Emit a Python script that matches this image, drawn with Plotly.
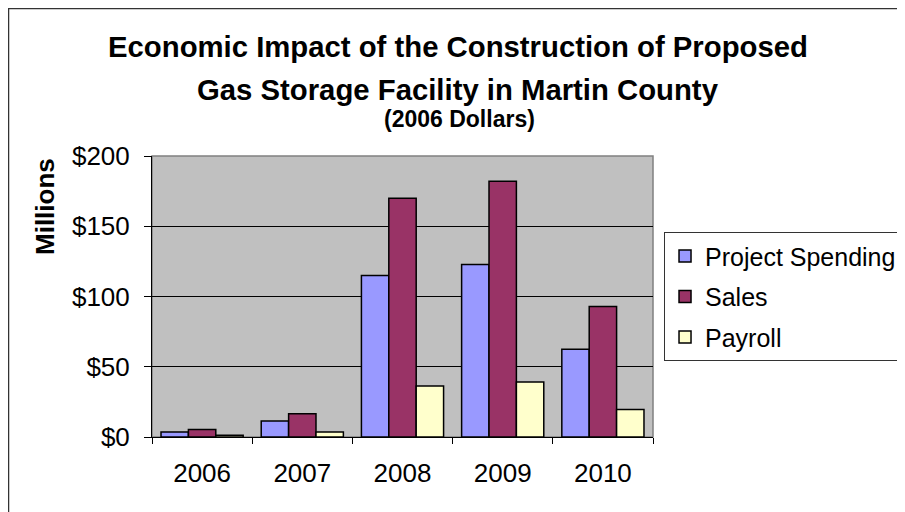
"""Economic impact bar chart (Excel-style grouped columns)."""

import plotly.graph_objects as go

# ── Data ─────────────────────────────────────────────────────────────────────

YEARS = ["2006", "2007", "2008", "2009", "2010"]
PROJECT_SPENDING = [3.6, 11.4, 115.0, 122.7, 62.4]
SALES = [5.3, 16.6, 170.0, 182.0, 92.8]
PAYROLL = [1.2, 3.6, 36.3, 39.1, 19.5]

Y_TICKS = [0, 50, 100, 150, 200]
Y_TICK_TEXT = ["$0", "$50", "$100", "$150", "$200"]

# ── Style ────────────────────────────────────────────────────────────────────

FONT = "Arial, Liberation Sans, sans-serif"
SERIES_COLORS = {"Project Spending": "#9999FF", "Sales": "#993366", "Payroll": "#FFFFCC"}
PLOT_BG = "#C0C0C0"

fig = go.Figure()
for i, (name, values) in enumerate([("Project Spending", PROJECT_SPENDING),
                                    ("Sales", SALES),
                                    ("Payroll", PAYROLL)]):
    fig.add_trace(go.Bar(
        name=name, x=YEARS, y=values,
        marker=dict(color=SERIES_COLORS[name], line=dict(color="black", width=1.5)),
        legendgroup=f"g{i}",
    ))

# page has an 8px body margin, so margins are shifted to land the plot area
# at the same spot as in the reference; legend runs off the right edge
fig.update_layout(
    width=905, height=512,
    margin=dict(l=144, r=260, t=148, b=83, autoexpand=False),
    paper_bgcolor="white",
    plot_bgcolor=PLOT_BG,
    font=dict(family=FONT, size=26, color="black"),
    barmode="group",
    bargap=0.18,
    bargroupgap=0,
    showlegend=True,
    legend=dict(
        x=1.022, y=0.729, xanchor="left", yanchor="top",
        bgcolor="white", bordercolor="#333333", borderwidth=1,
        font=dict(size=25), traceorder="grouped", tracegroupgap=5,
    ),
    xaxis=dict(
        showline=True, linecolor="black", linewidth=1,
        ticks="outside", ticklen=6, tickcolor="black", tickson="boundaries",
        ticklabelstandoff=13, showgrid=False,
    ),
    yaxis=dict(
        range=[0, 200], tickvals=Y_TICKS, ticktext=Y_TICK_TEXT,
        showline=True, linecolor="black", linewidth=1,
        ticks="outside", ticklen=7, tickcolor="black", ticklabelstandoff=9,
        showgrid=True, gridcolor="black", gridwidth=1, zeroline=False,
    ),
)

# plot-area border (grey top/right like Excel)
fig.add_shape(type="rect", xref="paper", yref="paper", x0=0, x1=1, y0=0, y1=1,
              line=dict(color="#808080", width=1.5), layer="between")
# outer chart border (cropped on right/bottom)
fig.add_shape(type="rect", xref="paper", yref="paper",
              x0=-0.2864, x1=1.6, y0=-0.4, y1=1.5248,
              line=dict(color="#333333", width=1.5), layer="below")

# ── Titles ───────────────────────────────────────────────────────────────────

fig.add_annotation(text="<b>Economic Impact of the Construction of Proposed</b>",
                   xref="paper", yref="paper", x=0.611, y=1.388, showarrow=False,
                   xanchor="center", yanchor="middle", font=dict(size=29.3))
fig.add_annotation(text="<b>Gas Storage Facility in Martin County</b>",
                   xref="paper", yref="paper", x=0.611, y=1.238, showarrow=False,
                   xanchor="center", yanchor="middle", font=dict(size=29.3))
fig.add_annotation(text="<b>(2006 Dollars)</b>",
                   xref="paper", yref="paper", x=0.613, y=1.131, showarrow=False,
                   xanchor="center", yanchor="middle", font=dict(size=23))
fig.add_annotation(text="<b>Millions</b>", textangle=-90,
                   xref="paper", yref="paper", x=-0.2136, y=0.822, showarrow=False,
                   xanchor="center", yanchor="middle", font=dict(size=26))

fig.write_html("out.html")
